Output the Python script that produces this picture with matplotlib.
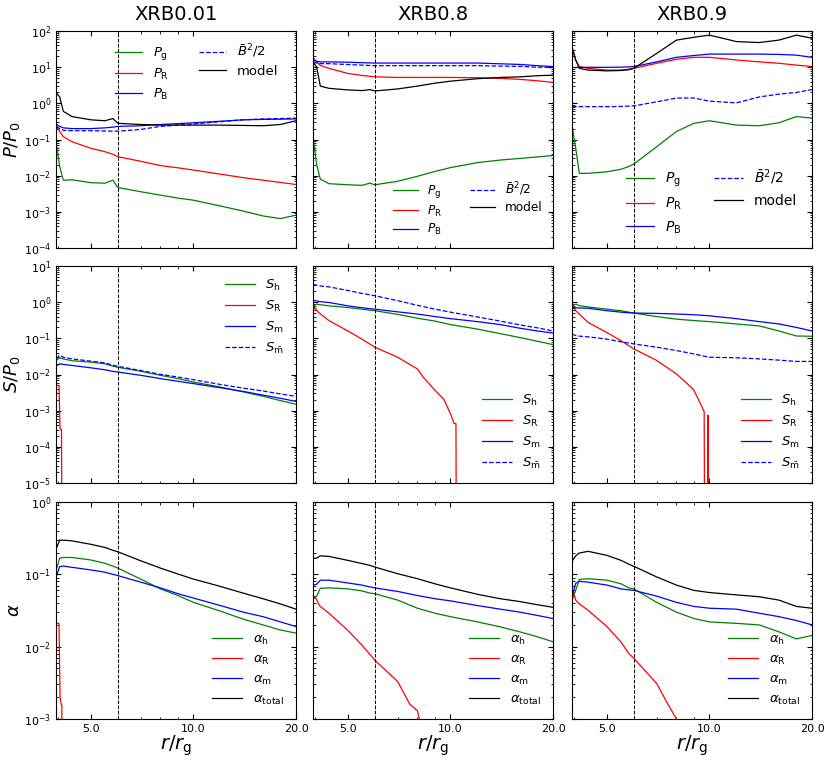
import numpy as np
import matplotlib
matplotlib.use("Agg")
import matplotlib.pyplot as plt
from matplotlib.ticker import FixedLocator, FormatStrFormatter, NullFormatter

# radius grid (r / r_g) used for most curves
r = [3.95, 4.05, 4.15, 4.4, 5.0, 5.5, 5.8, 6.0, 7.0, 8.0, 9.0, 10.0, 12.0, 14.0, 16.0, 18.0, 20.0]
r_isco = 6.0
titles = ["XRB0.01", "XRB0.8", "XRB0.9"]

# ---- pressures, row 1 ----
Pg_1 = [0.09, 0.018, 0.0075, 0.0077, 0.0064, 0.0062, 0.0075, 0.0047, 0.0036, 0.0029, 0.0024, 0.0021, 0.00145, 0.00105, 0.00077, 0.00065, 0.00081]
PR_1 = [0.25, 0.167, 0.12, 0.087, 0.057, 0.046, 0.039, 0.0335, 0.025, 0.019, 0.0165, 0.0143, 0.011, 0.0088, 0.0075, 0.0065, 0.0057]
PB_1 = [0.27, 0.23, 0.21, 0.2, 0.2, 0.21, 0.22, 0.23, 0.24, 0.26, 0.275, 0.29, 0.32, 0.35, 0.36, 0.365, 0.37]
B2_1 = [0.23, 0.2, 0.18, 0.175, 0.175, 0.172, 0.17, 0.17, 0.19, 0.23, 0.25, 0.27, 0.31, 0.35, 0.37, 0.38, 0.39]
model_1 = [2.0, 1.5, 0.6, 0.43, 0.35, 0.33, 0.38, 0.28, 0.26, 0.25, 0.25, 0.25, 0.25, 0.245, 0.24, 0.26, 0.33]

Pg_2 = [0.115, 0.02, 0.008, 0.006, 0.0056, 0.0054, 0.0062, 0.0056, 0.007, 0.0096, 0.0131, 0.0167, 0.023, 0.027, 0.03, 0.033, 0.036]
PR_2 = [18.7, 14, 11.2, 9.3, 6.7, 5.9, 5.6, 5.4, 5.2, 5.2, 5.2, 5.2, 5.1, 4.9, 4.6, 4.2, 3.8]
PB_2 = [15.8, 14.5, 14, 14, 13.7, 13.3, 13.1, 13, 13, 13, 13, 13, 13, 12.4, 11.9, 11, 10.4]
B2_2 = [14, 13, 12.5, 12.5, 11.8, 11.4, 11.1, 11, 11, 11, 11, 11, 11, 10.7, 10.5, 10, 9.8]
model_2 = [14, 10, 3.0, 2.6, 2.35, 2.25, 2.4, 2.2, 2.5, 3.0, 3.6, 4.1, 4.8, 5.2, 5.4, 5.8, 6.0]

Pg_3 = [0.25, 0.058, 0.0116, 0.0116, 0.0128, 0.015, 0.018, 0.021, 0.063, 0.166, 0.28, 0.33, 0.25, 0.24, 0.29, 0.43, 0.39]
PR_3 = [35, 15.8, 10.4, 9.3, 8.3, 8.3, 8.8, 9.3, 12.8, 16.5, 18.7, 18.7, 15.8, 14, 12.8, 11.4, 10.4]
PB_3 = [9.7, 9.8, 9.9, 9.9, 9.9, 10, 10.2, 10.4, 14, 18.7, 21, 23, 23, 23, 22.5, 21.5, 18.7]
B2_3 = [0.81, 0.81, 0.81, 0.81, 0.81, 0.82, 0.84, 0.85, 1.1, 1.4, 1.4, 1.15, 1.03, 1.5, 1.8, 2.0, 2.4]
model_3 = [37, 15.8, 9.3, 8.3, 7.9, 8.1, 8.5, 9.3, 24, 56, 67, 77, 51, 48, 56, 77, 63]

# ---- stresses, row 2 ----
Sh_1 = [0.0244, 0.029, 0.027, 0.024, 0.022, 0.0197, 0.017, 0.0158, 0.0123, 0.0095, 0.0077, 0.0062, 0.0045, 0.0033, 0.0025, 0.0019, 0.0015]
Sm_1 = [0.017, 0.0197, 0.019, 0.0178, 0.0153, 0.0135, 0.0122, 0.0117, 0.0095, 0.0077, 0.0065, 0.0056, 0.0043, 0.0034, 0.0027, 0.0022, 0.0018]
Smb_1 = [0.027, 0.034, 0.03, 0.027, 0.0234, 0.021, 0.018, 0.0168, 0.0129, 0.0101, 0.0085, 0.0072, 0.0053, 0.0042, 0.0035, 0.0029, 0.0025]
SR_1_r = [3.95, 4.03, 4.06, 4.10, 4.12]
SR_1 = [0.005, 0.005, 3.2e-4, 3.0e-4, 1e-9]

Sh_2 = [0.79, 0.88, 0.85, 0.79, 0.71, 0.64, 0.6, 0.58, 0.46, 0.36, 0.3, 0.24, 0.18, 0.135, 0.105, 0.083, 0.067]
Sm_2 = [1.13, 1.08, 1.03, 0.98, 0.79, 0.7, 0.66, 0.64, 0.54, 0.47, 0.4, 0.35, 0.29, 0.24, 0.19, 0.16, 0.14]
Smb_2 = [3.1, 2.95, 2.8, 2.65, 2.1, 1.75, 1.6, 1.5, 1.1, 0.82, 0.64, 0.53, 0.39, 0.3, 0.235, 0.195, 0.16]
SR_2_r = [3.95, 4.1, 4.4, 5.0, 5.5, 6.0, 7.0, 8.0, 8.35, 9.0, 9.55, 10.0, 10.25, 10.38, 10.42]
SR_2 = [0.79, 0.52, 0.31, 0.16, 0.095, 0.057, 0.030, 0.0142, 0.0081, 0.0037, 0.0021, 8.3e-4, 4.4e-4, 4.4e-4, 1e-9]

Sh_3 = [0.79, 0.88, 0.8, 0.74, 0.64, 0.58, 0.53, 0.5, 0.4, 0.34, 0.31, 0.29, 0.25, 0.22, 0.16, 0.116, 0.114]
Sm_3 = [0.71, 0.7, 0.69, 0.68, 0.58, 0.53, 0.51, 0.5, 0.49, 0.47, 0.45, 0.42, 0.35, 0.29, 0.25, 0.2, 0.16]
Smb_3 = [0.13, 0.12, 0.115, 0.11, 0.095, 0.08, 0.074, 0.07, 0.057, 0.046, 0.037, 0.03, 0.029, 0.027, 0.025, 0.023, 0.023]
SR_3_r = [3.95, 4.05, 4.4, 5.0, 5.5, 6.0, 7.0, 8.0, 8.6, 9.0, 9.4, 9.65, 9.7, 9.88, 9.9, 9.93]
SR_3 = [0.98, 0.58, 0.277, 0.145, 0.086, 0.051, 0.0245, 0.0104, 0.0056, 0.0037, 0.0016, 9.4e-4, 1e-9, 1e-9, 7.5e-4, 1e-9]

# ---- alpha, row 3 ----
aT_1 = [0.223, 0.297, 0.297, 0.29, 0.26, 0.235, 0.215, 0.205, 0.154, 0.122, 0.101, 0.086, 0.068, 0.055, 0.046, 0.039, 0.033]
aH_1 = [0.112, 0.167, 0.171, 0.171, 0.158, 0.142, 0.13, 0.122, 0.086, 0.063, 0.051, 0.041, 0.031, 0.024, 0.02, 0.017, 0.0154]
aM_1 = [0.091, 0.128, 0.13, 0.125, 0.115, 0.107, 0.1, 0.096, 0.078, 0.065, 0.054, 0.047, 0.037, 0.030, 0.026, 0.022, 0.019]
aR_1_r = [3.95, 4.03, 4.06, 4.09, 4.11, 4.12]
aR_1 = [0.021, 0.021, 0.002, 0.0016, 0.0015, 1e-9]

aT_2 = [0.165, 0.168, 0.18, 0.177, 0.156, 0.141, 0.133, 0.126, 0.102, 0.087, 0.074, 0.065, 0.053, 0.046, 0.042, 0.038, 0.035]
aH_2 = [0.045, 0.05, 0.064, 0.065, 0.063, 0.059, 0.055, 0.054, 0.044, 0.034, 0.029, 0.026, 0.022, 0.0188, 0.016, 0.0137, 0.0117]
aM_2 = [0.071, 0.073, 0.083, 0.083, 0.076, 0.071, 0.067, 0.065, 0.058, 0.051, 0.046, 0.043, 0.037, 0.033, 0.030, 0.027, 0.0245]
aR_2_r = [3.95, 4.05, 4.1, 4.15, 4.4, 5.0, 5.5, 6.0, 7.0, 7.6, 8.0, 8.1, 8.2]
aR_2 = [0.05, 0.045, 0.039, 0.036, 0.029, 0.0168, 0.0105, 0.0065, 0.0033, 0.0016, 0.0013, 0.001, 1e-9]

aT_3 = [0.151, 0.18, 0.197, 0.208, 0.183, 0.156, 0.138, 0.129, 0.092, 0.071, 0.06, 0.056, 0.052, 0.049, 0.044, 0.036, 0.034]
aH_3 = [0.044, 0.06, 0.085, 0.087, 0.083, 0.074, 0.065, 0.063, 0.041, 0.030, 0.0245, 0.022, 0.021, 0.020, 0.016, 0.0128, 0.0143]
aM_3 = [0.049, 0.075, 0.08, 0.078, 0.071, 0.063, 0.061, 0.06, 0.05, 0.041, 0.036, 0.034, 0.033, 0.029, 0.026, 0.023, 0.020]
aR_3_r = [3.95, 4.05, 4.15, 4.4, 5.0, 5.5, 5.8, 6.0, 7.0, 7.5, 8.0, 8.1]
aR_3 = [0.063, 0.044, 0.039, 0.032, 0.019, 0.0116, 0.008, 0.0069, 0.0031, 0.0017, 0.001, 1e-9]

plt.rcParams['font.family'] = ['DejaVu Sans']
plt.rcParams['mathtext.fontset'] = 'dejavusans'
plt.rcParams['xtick.direction'] = 'in'
plt.rcParams['ytick.direction'] = 'in'
plt.rcParams['xtick.top'] = True
plt.rcParams['ytick.right'] = True
plt.rcParams['xtick.major.size'] = 3.5
plt.rcParams['ytick.major.size'] = 3.5
plt.rcParams['xtick.minor.size'] = 1.8
plt.rcParams['ytick.minor.size'] = 1.8
plt.rcParams['xtick.labelsize'] = 8
plt.rcParams['ytick.labelsize'] = 8
plt.rcParams['axes.linewidth'] = 0.8

fig = plt.figure(figsize=(8.3, 7.61), dpi=100)
lefts = [56/830, 313/830, 572/830]
bottoms = [1-248/761, 1-483/761, 1-719/761]
w = 240/830
h = 217/761
ylims = [(1e-4, 1e2), (1e-5, 1e1), (1e-3, 1e0)]
ylabels = [r'$P/P_0$', r'$S/P_0$', r'$\alpha$']
lw = 0.9

# legend look of the top row differs a bit between panels
top_leg_size = [9.5, 8.7, 10]
top_leg_space = [0.35, 0.28, 0.5]
top_leg_anchor = [(0.975, 1.0), (1.0, 0.0), (0.99, 0.0)]

press = [(Pg_1, PR_1, PB_1, B2_1, model_1),
         (Pg_2, PR_2, PB_2, B2_2, model_2),
         (Pg_3, PR_3, PB_3, B2_3, model_3)]
stress = [(Sh_1, SR_1_r, SR_1, Sm_1, Smb_1),
          (Sh_2, SR_2_r, SR_2, Sm_2, Smb_2),
          (Sh_3, SR_3_r, SR_3, Sm_3, Smb_3)]
alphas = [(aH_1, aR_1_r, aR_1, aM_1, aT_1),
          (aH_2, aR_2_r, aR_2, aM_2, aT_2),
          (aH_3, aR_3_r, aR_3, aM_3, aT_3)]

for row in range(3):
    for col in range(3):
        ax = fig.add_axes([lefts[col], bottoms[row], w, h])
        if row == 0:
            Pg, PR, PB, B2, mod = press[col]
            ax.plot(r, Pg, color='g', lw=lw, label=r'$P_{\rm g}$')
            ax.plot(r, PR, color='r', lw=lw, label=r'$P_{\rm R}$')
            ax.plot(r, PB, color='b', lw=lw, label=r'$P_{\rm B}$')
            ax.plot(r, B2, color='b', lw=lw, ls='--', label=r'$\bar{B}^2/2$')
            ax.plot(r, mod, color='k', lw=lw, label='model')
            loc = 'upper right' if col == 0 else 'lower right'
            ax.legend(loc=loc, bbox_to_anchor=top_leg_anchor[col], ncol=2, frameon=False,
                      fontsize=top_leg_size[col], handlelength=2.05,
                      labelspacing=top_leg_space[col], columnspacing=2.3)
            ax.set_title(titles[col], fontsize=14, pad=8)
        elif row == 1:
            Sh, SRr, SR, Sm, Smb = stress[col]
            ax.plot(r, Sh, color='g', lw=lw, label=r'$S_{\rm h}$')
            ax.plot(SRr, SR, color='r', lw=lw, label=r'$S_{\rm R}$')
            ax.plot(r, Sm, color='b', lw=lw, label=r'$S_{\rm m}$')
            ax.plot(r, Smb, color='b', lw=lw, ls='--', label=r'$S_{\bar{\rm m}}$')
            loc = 'upper right' if col == 0 else 'lower right'
            ax.legend(loc=loc, frameon=False, fontsize=9.5, labelspacing=0.45,
                      handlelength=2.3)
        else:
            aH, aRr, aR, aM, aT = alphas[col]
            ax.plot(r, aH, color='g', lw=lw, label=r'$\alpha_{\rm h}$')
            ax.plot(aRr, aR, color='r', lw=lw, label=r'$\alpha_{\rm R}$')
            ax.plot(r, aM, color='b', lw=lw, label=r'$\alpha_{\rm m}$')
            ax.plot(r, aT, color='k', lw=lw, label=r'$\alpha_{\rm total}$')
            ax.legend(loc='lower right', frameon=False, fontsize=9.5, labelspacing=0.45,
                      handlelength=2.3)
            ax.set_xlabel(r'$r/r_{\rm g}$', fontsize=14, labelpad=0)

        ax.axvline(r_isco, color='k', ls='--', lw=0.7)
        ax.set_xscale('log')
        ax.set_yscale('log')
        ax.set_xlim(3.95, 20)
        ax.set_ylim(*ylims[row])
        ax.xaxis.set_major_locator(FixedLocator([5, 10, 20]))
        ax.xaxis.set_minor_locator(FixedLocator([4, 6, 7, 8, 9]))
        ax.xaxis.set_minor_formatter(NullFormatter())
        if row == 2:
            ax.xaxis.set_major_formatter(FormatStrFormatter('%.1f'))
        else:
            ax.xaxis.set_major_formatter(NullFormatter())
        if col == 0:
            ax.set_ylabel(ylabels[row], fontsize=13, labelpad=1)
        else:
            ax.yaxis.set_major_formatter(NullFormatter())
        ax.yaxis.set_minor_formatter(NullFormatter())

fig.savefig('out.png', dpi=100, facecolor='white')
